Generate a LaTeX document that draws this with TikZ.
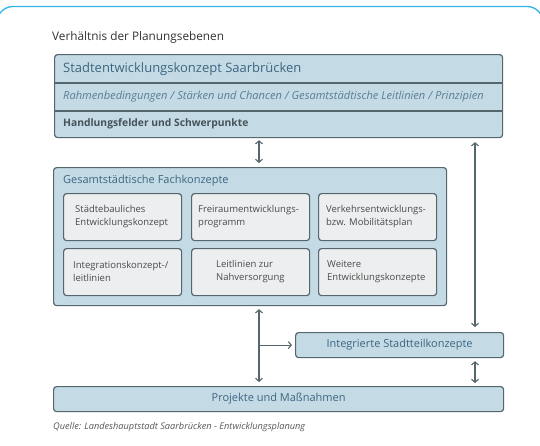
\documentclass[tikz,border=0pt]{standalone}
\usepackage{fontspec}
\setmainfont{Open Sans}
\usetikzlibrary{arrows.meta}

\definecolor{frameblue}{HTML}{2EB4E6}
\definecolor{boxblue}{HTML}{C4DBE6}
\definecolor{boxline}{HTML}{56666D}
\definecolor{cardgray}{HTML}{EDEEEF}
\definecolor{titleblue}{HTML}{3E6580}
\definecolor{textgray}{HTML}{4B4B4B}

\begin{document}
\begin{tikzpicture}[x=1pt, y=-1pt,
    panel/.style={draw=boxline, fill=boxblue, line width=1.2pt, rounded corners=3pt, inner sep=0pt, anchor=north west},
    card/.style={draw=boxline, fill=cardgray, line width=1.2pt, rounded corners=3pt, inner sep=0pt,
                 minimum width=118pt, minimum height=47pt, anchor=north west},
    cardtext/.style={anchor=west, align=left, inner sep=0pt, text=textgray, font=\fontsize{9.5}{13}\selectfont},
    tip/.tip={Straight Barb[length=3pt, width=7pt]},
    arr/.style={tip-tip, line width=1.1pt, draw=boxline},
  ]

    % Page and frame
    \fill[white] (0,0) rectangle (540,445);
    \useasboundingbox (0,0) rectangle (540,445);
    \draw[frameblue, line width=1.3pt, rounded corners=16pt] (-3,6.5) rectangle (543,480);

    % Heading
    \node at (52,37) [anchor=west, inner sep=0pt, text=black!80, font=\fontsize{11.8}{13}\selectfont] (heading) {Verhältnis der Planungsebenen};

    % Stadtentwicklungskonzept
    \node[panel, minimum width=448pt, minimum height=83pt] (sek) at (54,54) {};
    \draw[boxline, line width=1.2pt] (sek.west |- 0,83) -- (sek.east |- 0,83);
    \draw[boxline, line width=1.2pt] (sek.west |- 0,111) -- (sek.east |- 0,111);
    \node at (63,69) [anchor=west, inner sep=0pt, text=titleblue, font=\fontsize{13}{15}\selectfont] (sektitle) {Stadtentwicklungskonzept Saarbrücken};
    \node at (63,97) [anchor=west, inner sep=0pt, text=titleblue!85, font=\fontsize{11.1}{12}\selectfont\itshape] (sekbase) {Rahmenbedingungen / Stärken und Chancen / Gesamtstädtische Leitlinien / Prinzipien};
    \node at (63,124) [anchor=west, inner sep=0pt, text=boxline!80!black, font=\fontsize{10.3}{12}\selectfont\bfseries] (sekfields) {Handlungsfelder und Schwerpunkte};

    % Fachkonzepte
    \node[panel, minimum width=393pt, minimum height=138pt] (fach) at (53,167) {};
    \node at (63,181) [anchor=west, inner sep=0pt, text=titleblue, font=\fontsize{11}{12}\selectfont] (fachtitle) {Gesamtstädtische Fachkonzepte};

    \node[card] (staedtebau) at (63,193) {};
    \node[card] (freiraum) at (191,193) {};
    \node[card] (verkehr) at (318,193) {};
    \node[card] (integration) at (63,248) {};
    \node[card] (nahversorgung) at (191,248) {};
    \node[card] (weitere) at (318,248) {};

    \node[cardtext] at (75,216.5) {Städtebauliches\\Entwicklungskonzept};
    \node[cardtext] at (198,216.5) {Freiraumentwicklungs-\\programm};
    \node[cardtext] at (326,216.5) {Verkehrsentwicklungs-\\bzw. Mobilitätsplan};
    \node[cardtext] at (73,271.5) {Integrationskonzept-/\\leitlinien};
    \node[cardtext] at (216,271.5) {Leitlinien zur\\Nahversorgung};
    \node[cardtext] at (327,271.5) {Weitere\\Entwicklungskonzepte};

    % Stadtteilkonzepte and Projekte
    \node[panel, minimum width=208pt, minimum height=25pt, text=titleblue, font=\fontsize{11}{12}\selectfont] (stadtteil) at (295,332) {Integrierte Stadtteilkonzepte};
    \node[panel, minimum width=450pt, minimum height=25pt, text=titleblue, font=\fontsize{11}{12}\selectfont] (projekte) at (53,386) {Projekte und Maßnahmen};

    % Source
    \node at (53,427) [anchor=west, inner sep=0pt, text=black!65, font=\fontsize{9.2}{10}\selectfont\itshape] (quelle) {Quelle: Landeshauptstadt Saarbrücken - Entwicklungsplanung};

    % Arrows
    \coordinate (midx) at (259,0);
    \coordinate (rightx) at (475,0);
    \draw[arr, shorten <=2pt, shorten >=4pt] (sek.south -| midx) -- (fach.north -| midx);
    \draw[arr, shorten <=3pt, shorten >=4pt] (fach.south -| midx) -- (projekte.north -| midx);
    \draw[-tip, line width=1.1pt, draw=boxline, shorten >=3pt] (midx |- stadtteil.west) -- (stadtteil.west);
    \draw[arr, shorten <=4pt, shorten >=5pt] (sek.south -| rightx) -- (stadtteil.north -| rightx);
    \draw[arr, shorten <=3pt, shorten >=3pt] (stadtteil.south -| rightx) -- (projekte.north -| rightx);

\end{tikzpicture}
\end{document}
